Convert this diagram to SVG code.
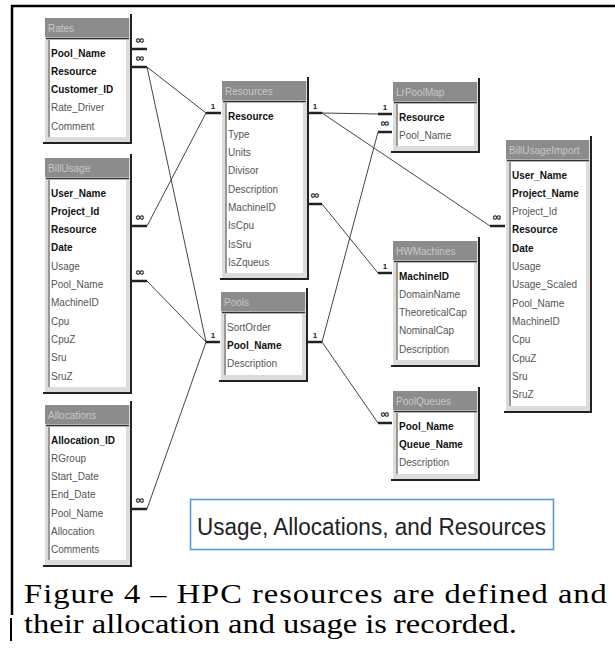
<svg xmlns="http://www.w3.org/2000/svg" width="615" height="649" viewBox="0 0 615 649">
  <style>
    .frame { fill: #dcdcdc; }
    .bar { fill: #8c8c8c; }
    .ttl { font-family: "Liberation Sans", Arial, sans-serif; font-size: 10px; fill: #c8c8c8; }
    .body { fill: #ffffff; }
    .sep { stroke: #333333; stroke-width: 1.5; }
    .inner { stroke: #555555; stroke-width: 1.2; }
    .edge { stroke: #222222; stroke-width: 2; fill: none; }
    .fld { font-family: "Liberation Sans", Arial, sans-serif; font-size: 10px; fill: #555555; }
    .k { font-weight: bold; fill: #111111; }
    .rel { stroke: #444444; stroke-width: 1; fill: none; }
    .stub { stroke: #222222; stroke-width: 2.5; }
    .card { font-family: "Liberation Sans", "DejaVu Sans", sans-serif; font-weight: bold; font-size: 8px; fill: #222222; text-anchor: middle; }
    .inf { font-size: 12px; }
    .cap { font-family: "Liberation Serif", "Times New Roman", serif; font-size: 27px; fill: #000000; }
    .note { font-family: "Liberation Sans", Arial, sans-serif; font-size: 23px; fill: #222222; }
  </style>

  <rect x="0" y="0" width="615" height="649" fill="#ffffff"/>

  <!-- page frame -->
  <line x1="11" y1="6" x2="615" y2="6" stroke="#000" stroke-width="2.5"/>
  <line x1="12" y1="5" x2="12" y2="615" stroke="#000" stroke-width="2.5"/>
  <line x1="11" y1="618" x2="11" y2="641" stroke="#000" stroke-width="2"/>

  <!-- relationship lines -->
  <g id="connectors">
    <line class="rel" x1="147" y1="67" x2="206" y2="113"/>
    <line class="rel" x1="147" y1="67" x2="206" y2="342"/>
    <line class="rel" x1="147" y1="226" x2="206" y2="113"/>
    <line class="rel" x1="147" y1="281" x2="206" y2="342"/>
    <line class="rel" x1="147" y1="509" x2="206" y2="342"/>
    <line class="rel" x1="322" y1="113" x2="378" y2="114"/>
    <line class="rel" x1="322" y1="113" x2="490" y2="226"/>
    <line class="rel" x1="322" y1="204" x2="378" y2="273"/>
    <line class="rel" x1="322" y1="342" x2="378" y2="132"/>
    <line class="rel" x1="322" y1="342" x2="378" y2="423"/>

    <!-- join stubs -->
    <line class="stub" x1="132" y1="49" x2="147" y2="49"/>
    <line class="stub" x1="132" y1="67" x2="147" y2="67"/>
    <line class="stub" x1="132" y1="226" x2="147" y2="226"/>
    <line class="stub" x1="132" y1="281" x2="147" y2="281"/>
    <line class="stub" x1="132" y1="509" x2="147" y2="509"/>
    <line class="stub" x1="206" y1="113" x2="221" y2="113"/>
    <line class="stub" x1="308" y1="113" x2="322" y2="113"/>
    <line class="stub" x1="308" y1="204" x2="322" y2="204"/>
    <line class="stub" x1="206" y1="342" x2="220" y2="342"/>
    <line class="stub" x1="308" y1="342" x2="322" y2="342"/>
    <line class="stub" x1="378" y1="114" x2="392" y2="114"/>
    <line class="stub" x1="378" y1="132" x2="392" y2="132"/>
    <line class="stub" x1="378" y1="273" x2="392" y2="273"/>
    <line class="stub" x1="378" y1="423" x2="392" y2="423"/>
    <line class="stub" x1="490" y1="226" x2="505" y2="226"/>

    <!-- cardinality labels -->
    <text class="card inf" x="140" y="44">∞</text>
    <text class="card inf" x="140" y="62">∞</text>
    <text class="card inf" x="140" y="221">∞</text>
    <text class="card inf" x="140" y="276">∞</text>
    <text class="card inf" x="140" y="504">∞</text>
    <text class="card" x="213" y="109">1</text>
    <text class="card" x="315" y="109">1</text>
    <text class="card inf" x="315" y="199">∞</text>
    <text class="card" x="213" y="338">1</text>
    <text class="card" x="315" y="338">1</text>
    <text class="card" x="385" y="110">1</text>
    <text class="card inf" x="385" y="127">∞</text>
    <text class="card" x="385" y="269">1</text>
    <text class="card inf" x="385" y="418">∞</text>
    <text class="card inf" x="497" y="221">∞</text>
  </g>

  <!-- Rates -->
  <g id="rates" transform="translate(45,18)">
    <rect class="frame" x="0" y="0" width="86" height="125"/>
    <rect class="bar" x="0" y="0" width="84" height="19"/>
    <text class="ttl" x="3" y="14">Rates</text>
    <line class="sep" x1="1" y1="20.5" x2="84" y2="20.5"/>
    <rect class="body" x="3" y="22" width="78" height="97"/>
    <line class="inner" x1="4" y1="22" x2="4" y2="119"/>
    <path class="edge" d="M86,-4 V125 H-2"/>
    <text class="fld k" x="6" y="38.5">Pool_Name</text>
    <text class="fld k" x="6" y="56.8">Resource</text>
    <text class="fld k" x="6" y="75.1">Customer_ID</text>
    <text class="fld" x="6" y="93.4">Rate_Driver</text>
    <text class="fld" x="6" y="111.7">Comment</text>
  </g>

  <!-- BillUsage -->
  <g id="billusage" transform="translate(45,158)">
    <rect class="frame" x="0" y="0" width="86" height="235"/>
    <rect class="bar" x="0" y="0" width="84" height="19"/>
    <text class="ttl" x="3" y="14">BillUsage</text>
    <line class="sep" x1="1" y1="20.5" x2="84" y2="20.5"/>
    <rect class="body" x="3" y="22" width="78" height="207"/>
    <line class="inner" x1="4" y1="22" x2="4" y2="229"/>
    <path class="edge" d="M86,-4 V235 H-2"/>
    <text class="fld k" x="6" y="38.5">User_Name</text>
    <text class="fld k" x="6" y="56.8">Project_Id</text>
    <text class="fld k" x="6" y="75.1">Resource</text>
    <text class="fld k" x="6" y="93.4">Date</text>
    <text class="fld" x="6" y="111.7">Usage</text>
    <text class="fld" x="6" y="130">Pool_Name</text>
    <text class="fld" x="6" y="148.3">MachineID</text>
    <text class="fld" x="6" y="166.6">Cpu</text>
    <text class="fld" x="6" y="184.9">CpuZ</text>
    <text class="fld" x="6" y="203.2">Sru</text>
    <text class="fld" x="6" y="221.5">SruZ</text>
  </g>

  <!-- Allocations -->
  <g id="allocations" transform="translate(45,405)">
    <rect class="frame" x="0" y="0" width="86" height="161"/>
    <rect class="bar" x="0" y="0" width="84" height="19"/>
    <text class="ttl" x="3" y="14">Allocations</text>
    <line class="sep" x1="1" y1="20.5" x2="84" y2="20.5"/>
    <rect class="body" x="3" y="22" width="78" height="133"/>
    <line class="inner" x1="4" y1="22" x2="4" y2="155"/>
    <path class="edge" d="M86,-4 V161 H-2"/>
    <text class="fld k" x="6" y="38.5">Allocation_ID</text>
    <text class="fld" x="6" y="56.8">RGroup</text>
    <text class="fld" x="6" y="75.1">Start_Date</text>
    <text class="fld" x="6" y="93.4">End_Date</text>
    <text class="fld" x="6" y="111.7">Pool_Name</text>
    <text class="fld" x="6" y="130">Allocation</text>
    <text class="fld" x="6" y="148.3">Comments</text>
  </g>

  <!-- Resources -->
  <g id="resources" transform="translate(222,81)">
    <rect class="frame" x="0" y="0" width="86" height="198"/>
    <rect class="bar" x="0" y="0" width="84" height="19"/>
    <text class="ttl" x="3" y="14">Resources</text>
    <line class="sep" x1="1" y1="20.5" x2="84" y2="20.5"/>
    <rect class="body" x="3" y="22" width="78" height="170"/>
    <line class="inner" x1="4" y1="22" x2="4" y2="192"/>
    <path class="edge" d="M86,-4 V198 H-2"/>
    <text class="fld k" x="6" y="38.5">Resource</text>
    <text class="fld" x="6" y="56.8">Type</text>
    <text class="fld" x="6" y="75.1">Units</text>
    <text class="fld" x="6" y="93.4">Divisor</text>
    <text class="fld" x="6" y="111.7">Description</text>
    <text class="fld" x="6" y="130">MachineID</text>
    <text class="fld" x="6" y="148.3">IsCpu</text>
    <text class="fld" x="6" y="166.6">IsSru</text>
    <text class="fld" x="6" y="184.9">IsZqueus</text>
  </g>

  <!-- Pools -->
  <g id="pools" transform="translate(221,292)">
    <rect class="frame" x="0" y="0" width="86" height="89"/>
    <rect class="bar" x="0" y="0" width="84" height="19"/>
    <text class="ttl" x="3" y="14">Pools</text>
    <line class="sep" x1="1" y1="20.5" x2="84" y2="20.5"/>
    <rect class="body" x="3" y="22" width="78" height="61"/>
    <line class="inner" x1="4" y1="22" x2="4" y2="83"/>
    <path class="edge" d="M86,-4 V89 H-2"/>
    <text class="fld" x="6" y="38.5">SortOrder</text>
    <text class="fld k" x="6" y="56.8">Pool_Name</text>
    <text class="fld" x="6" y="75.1">Description</text>
  </g>

  <!-- LrPoolMap -->
  <g id="lrpoolmap" transform="translate(393,82)">
    <rect class="frame" x="0" y="0" width="86" height="70"/>
    <rect class="bar" x="0" y="0" width="84" height="19"/>
    <text class="ttl" x="3" y="14">LrPoolMap</text>
    <line class="sep" x1="1" y1="20.5" x2="84" y2="20.5"/>
    <rect class="body" x="3" y="22" width="78" height="42"/>
    <line class="inner" x1="4" y1="22" x2="4" y2="64"/>
    <path class="edge" d="M86,-4 V70 H-2"/>
    <text class="fld k" x="6" y="38.5">Resource</text>
    <text class="fld" x="6" y="56.8">Pool_Name</text>
  </g>

  <!-- BillUsageImport -->
  <g id="billusageimport" transform="translate(506,140)">
    <rect class="frame" x="0" y="0" width="85" height="272"/>
    <rect class="bar" x="0" y="0" width="83" height="19"/>
    <text class="ttl" x="3" y="14">BillUsageImport</text>
    <line class="sep" x1="1" y1="20.5" x2="83" y2="20.5"/>
    <rect class="body" x="3" y="22" width="77" height="244"/>
    <line class="inner" x1="4" y1="22" x2="4" y2="266"/>
    <path class="edge" d="M85,-4 V272 H-2"/>
    <text class="fld k" x="6" y="38.5">User_Name</text>
    <text class="fld k" x="6" y="56.8">Project_Name</text>
    <text class="fld" x="6" y="75.1">Project_Id</text>
    <text class="fld k" x="6" y="93.4">Resource</text>
    <text class="fld k" x="6" y="111.7">Date</text>
    <text class="fld" x="6" y="130">Usage</text>
    <text class="fld" x="6" y="148.3">Usage_Scaled</text>
    <text class="fld" x="6" y="166.6">Pool_Name</text>
    <text class="fld" x="6" y="184.9">MachineID</text>
    <text class="fld" x="6" y="203.2">Cpu</text>
    <text class="fld" x="6" y="221.5">CpuZ</text>
    <text class="fld" x="6" y="239.8">Sru</text>
    <text class="fld" x="6" y="258.1">SruZ</text>
  </g>

  <!-- HWMachines -->
  <g id="hwmachines" transform="translate(393,241)">
    <rect class="frame" x="0" y="0" width="86" height="125"/>
    <rect class="bar" x="0" y="0" width="84" height="19"/>
    <text class="ttl" x="3" y="14">HWMachines</text>
    <line class="sep" x1="1" y1="20.5" x2="84" y2="20.5"/>
    <rect class="body" x="3" y="22" width="78" height="97"/>
    <line class="inner" x1="4" y1="22" x2="4" y2="119"/>
    <path class="edge" d="M86,-4 V125 H-2"/>
    <text class="fld k" x="6" y="38.5">MachineID</text>
    <text class="fld" x="6" y="56.8">DomainName</text>
    <text class="fld" x="6" y="75.1">TheoreticalCap</text>
    <text class="fld" x="6" y="93.4">NominalCap</text>
    <text class="fld" x="6" y="111.7">Description</text>
  </g>

  <!-- PoolQueues -->
  <g id="poolqueues" transform="translate(393,391)">
    <rect class="frame" x="0" y="0" width="86" height="89"/>
    <rect class="bar" x="0" y="0" width="84" height="19"/>
    <text class="ttl" x="3" y="14">PoolQueues</text>
    <line class="sep" x1="1" y1="20.5" x2="84" y2="20.5"/>
    <rect class="body" x="3" y="22" width="78" height="61"/>
    <line class="inner" x1="4" y1="22" x2="4" y2="83"/>
    <path class="edge" d="M86,-4 V89 H-2"/>
    <text class="fld k" x="6" y="38.5">Pool_Name</text>
    <text class="fld k" x="6" y="56.8">Queue_Name</text>
    <text class="fld" x="6" y="75.1">Description</text>
  </g>

  <!-- diagram title box -->
  <g id="title-box">
    <rect x="190.5" y="499.5" width="363" height="50" fill="#ffffff" stroke="#5b9bd5" stroke-width="1.6"/>
    <text class="note" x="197" y="535" textLength="349" lengthAdjust="spacingAndGlyphs">Usage, Allocations, and Resources</text>
  </g>

  <!-- figure caption, set wide and justified on the first line -->
  <g transform="scale(1.204,1)">
    <text class="cap" x="20" y="603" textLength="484" lengthAdjust="spacing">Figure 4 – HPC resources are defined and</text>
    <text class="cap" x="20" y="633">their allocation and usage is recorded.</text>
  </g>
</svg>
